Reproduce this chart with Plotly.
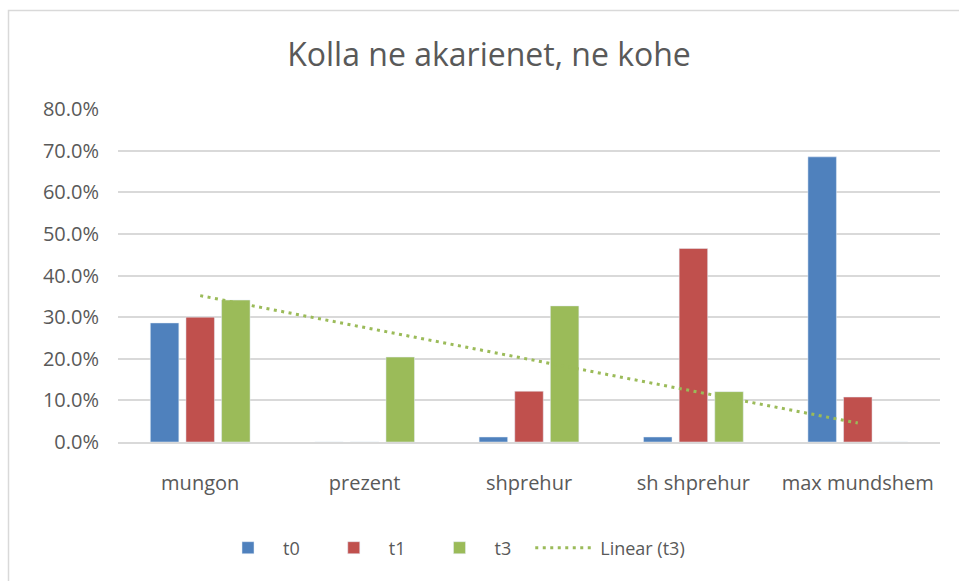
import numpy as np
import plotly.graph_objects as go

categories = ["mungon", "prezent", "shprehur", "sh shprehur", "max mundshem"]
t0 = [0.286, 0.0, 0.012, 0.012, 0.685]
t1 = [0.300, 0.0, 0.122, 0.465, 0.108]
t3 = [0.341, 0.204, 0.327, 0.121, 0.0]
y_ticks = [0.0, 0.1, 0.2, 0.3, 0.4, 0.5, 0.6, 0.7, 0.8]
series_names = ["t0", "t1", "t3"]
trend_name = "Linear (t3)"

BLUE = "#4F81BD"
RED = "#C0504D"
GREEN = "#9BBB59"
TXT = "#595959"
GRID = "#D9D9D9"
FONT = "Open Sans"
PAD = "\u00a0" * 3  # spacing between legend entries

# linear trendline of t3 (least squares over category index)
idx = np.arange(len(categories))
slope, intercept = np.polyfit(idx, t3, 1)
trend_y = [intercept + slope * idx[0], intercept + slope * idx[-1]]

fig = go.Figure()
for name, vals, col in zip(series_names, [t0, t1, t3], [BLUE, RED, GREEN]):
    fig.add_trace(go.Bar(x=categories, y=vals, name=name + PAD, marker_color=col))
fig.add_trace(go.Scatter(x=[categories[0], categories[-1]], y=trend_y, mode="lines",
                         name=trend_name,
                         line=dict(color=GREEN, width=3, dash="3px,4.5px")))

L, R, T, B = 118, 19, 109, 139
W, H = 959, 581
pw, ph = W - L - R, H - T - B

def px_x(x):
    return (x - L) / pw

def px_y(y):
    return (H - B - y) / ph

fig.update_layout(
    width=W, height=H,
    margin=dict(l=L, r=R, t=T, b=B, autoexpand=False),
    paper_bgcolor="white", plot_bgcolor="white",
    font=dict(family=FONT, color=TXT, size=20),
    title=dict(text="Kolla ne akarienet, ne kohe", x=489 / W, xanchor="center",
               xref="container", y=1 - 55 / H, yanchor="middle", yref="container",
               font=dict(family=FONT, size=32, color=TXT)),
    barmode="group", bargap=0.35, bargroupgap=0.2,
    showlegend=True,
    legend=dict(orientation="h", x=px_x(213), xanchor="left", y=px_y(548),
                yanchor="middle", font=dict(size=18, color=TXT),
                itemwidth=60, traceorder="normal"),
    xaxis=dict(showgrid=False, showline=True, linecolor=GRID, linewidth=1.5,
               ticks="", ticklabelstandoff=22, tickfont=dict(size=20, color=TXT)),
    yaxis=dict(range=[0, 0.8], tickvals=y_ticks, tickformat=".1%", showgrid=True,
               gridcolor=GRID, gridwidth=1.5, zeroline=False, showline=False,
               ticks="", ticklabelstandoff=18, tickfont=dict(size=20, color=TXT)),
    shapes=[dict(type="rect", xref="paper", yref="paper",
                 x0=px_x(8.5), x1=px_x(1000), y0=px_y(620), y1=px_y(10.5),
                 line=dict(color=GRID, width=1.5), fillcolor="rgba(0,0,0,0)",
                 layer="below")],
)

fig.write_html("out.html", config={"displayModeBar": False},
               post_script="document.body.style.margin='0';document.body.style.overflow='hidden';")
